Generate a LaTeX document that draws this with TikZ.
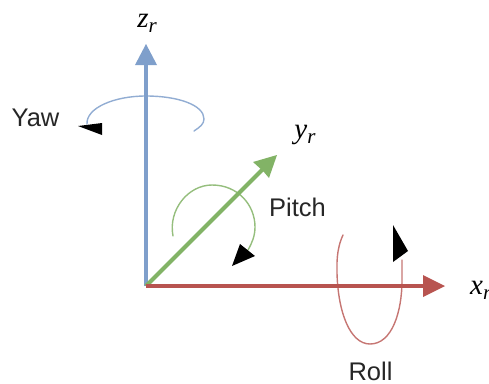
\documentclass[tikz,border=0pt]{standalone}
\usepackage{fontspec}
\setmainfont{Liberation Sans}
\newfontfamily\axisfont{Liberation Serif}
\definecolor{zblue}{HTML}{7F9FCB}
\definecolor{ygreen}{HTML}{82B366}
\definecolor{xred}{HTML}{B85450}
\newcommand{\axname}[2]{{\axisfont\fontsize{29}{29}\selectfont\itshape #1\raisebox{-5pt}{\fontsize{21}{21}\selectfont\itshape #2}}}
\tikzset{
  axis/.style={line width=4pt},
  head/.style={fill,draw=none},
  turn/.style={line width=1.4pt,line cap=round},
  tip/.style={fill=black,draw=none},
  lbl/.style={font=\fontsize{25.5}{27}\selectfont,inner sep=0pt,text=black!85},
  axl/.style={inner sep=0pt,text=black}
}
\begin{document}
\begin{tikzpicture}[x=1pt,y=-1pt]
\useasboundingbox (0,0) rectangle (489,383);
\clip (0,0) rectangle (489,383);
\coordinate (o) at (146,286);
\coordinate (zt) at (146,56);
\coordinate (yt) at (268,164);
\coordinate (xt) at (432,286);
% rotation arcs
\draw[turn,color=zblue!85] (87,124) .. controls (86,108) and (114,96) .. (146,96) .. controls (178,96) and (204,105) .. (204,119) .. controls (204,124) and (200,127) .. (194,131);
\draw[turn,color=ygreen!85] (173,236) .. controls (168,210) and (188,185) .. (212,185) .. controls (238,185) and (255,205) .. (255,227) .. controls (255,236) and (252,243) .. (248,250);
\draw[turn,color=xred!80] (343,235) .. controls (336,250) and (337,265) .. (337,273) .. controls (338,312) and (350,344) .. (370,344) .. controls (392,344) and (402,312) .. (402,280) .. controls (402,272) and (402,266) .. (402,260);
% axes
\draw[axis,color=zblue] (o) -- (zt);
\draw[axis,color=ygreen] (o) -- (yt);
\draw[axis,color=xred] (o) -- (xt);
\fill[head,color=zblue] (146,44) -- (157,65) -- (135,65) -- cycle;
\fill[head,color=ygreen] (277,155) -- (269,178) -- (263,171) -- (253,162) -- cycle;
\fill[head,color=xred] (445,286) -- (423,275) -- (423,297) -- cycle;
% black tips
\fill[tip] (78,126) -- (102,123) -- (102,135) -- cycle;
\fill[tip] (232,266) -- (240,244) -- (255,256) -- cycle;
\fill[tip] (393,225) -- (408,251) -- (393,262) -- cycle;
% labels
\node[lbl] (yaw) at (35.5,118) {Yaw};
\node[lbl] (pitch) at (297.5,207) {Pitch};
\node[lbl] (roll) at (370.5,371) {Roll};
\node[axl] (zl) at (147,23) {\axname{z}{r}};
\node[axl] (yl) at (305,135) {\axname{y}{r}};
\node[axl,anchor=west] (xl) at (470,290) {\axname{x}{r}};
\end{tikzpicture}
\end{document}
